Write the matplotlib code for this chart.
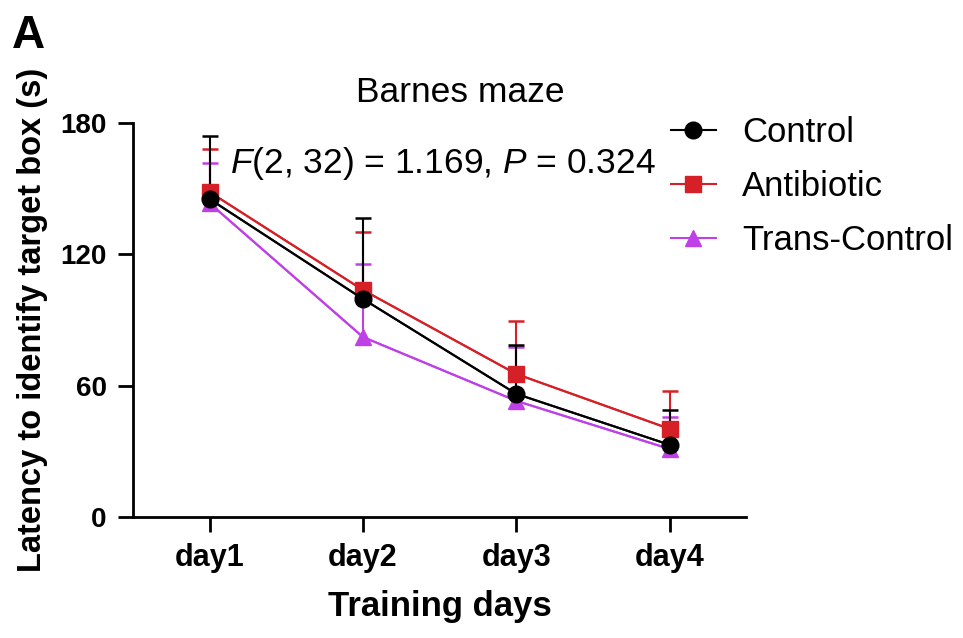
import numpy as np
import matplotlib.pyplot as plt

plt.rcParams['font.family'] = ['Liberation Sans', 'DejaVu Sans']
plt.rcParams['mathtext.fontset'] = 'custom'
plt.rcParams['mathtext.rm'] = 'Liberation Sans'
plt.rcParams['mathtext.it'] = 'Liberation Sans:italic'

days = ['day1', 'day2', 'day3', 'day4']

control = [145.3, 99.6, 56.2, 32.9]
control_err = [28.7, 37.0, 22.4, 16.0]

antibiotic = [148.5, 103.7, 65.3, 40.2]
antibiotic_err = [19.5, 26.5, 24.2, 17.4]

trans_control = [143.4, 82.2, 53.0, 31.0]
trans_control_err = [18.3, 33.4, 24.7, 14.7]

fig = plt.figure(figsize=(9.63, 6.38), dpi=100)
ax = fig.add_axes([0.138, 0.19, 0.637, 0.617])

x = np.arange(len(days))
groups = [
    ('Control', control, control_err, 'black', 'o', 12),
    ('Antibiotic', antibiotic, antibiotic_err, '#d62027', 's', 11),
    ('Trans-Control', trans_control, trans_control_err, '#c040e8', '^', 11),
]

# upper-only error bars, drawn back to front so Control sits on top
for z, (name, y, err, col, mk, ms) in zip([1, 2, 3], groups[::-1]):
    _, caps, _ = ax.errorbar(x, y, yerr=[np.zeros(len(err)), err], color=col,
                             lw=1.5, capsize=6, capthick=1.8, elinewidth=1.5,
                             zorder=z)
    caps[0].set_visible(False)

for z, (name, y, err, col, mk, ms) in zip([6, 5, 4], groups):
    ax.plot(x, y, color=col, lw=1.5, marker=mk, markersize=ms,
            label=name, zorder=z)

ax.set_xlim(-0.5, 3.5)
ax.set_ylim(0, 180)
ax.set_yticks([0, 60, 120, 180])
ax.set_xticks(x)
ax.set_xticklabels(days)

for side in ['top', 'right']:
    ax.spines[side].set_visible(False)
for side in ['left', 'bottom']:
    ax.spines[side].set_linewidth(2)

ax.tick_params(axis='both', direction='out', length=11, width=2, pad=8)
ax.tick_params(axis='y', labelsize=20)
ax.tick_params(axis='x', labelsize=22)
for lab in ax.get_xticklabels() + ax.get_yticklabels():
    lab.set_fontweight('bold')

ax.set_xlabel('Training days', fontsize=25, fontweight='bold', labelpad=12)
ax.set_ylabel('Latency to identify target box (s)', fontsize=23.5,
              fontweight='bold', labelpad=9)

fig.text(460 / 963, 1 - 93 / 638, 'Barnes maze', fontsize=25.5,
         ha='center', va='center')
ax.text(0.134, 161.5, '$F$(2, 32) = 1.169, $P$ = 0.324', fontsize=25.5,
        ha='left', va='center')

fig.text(12 / 963, 1 - 36 / 638, 'A', fontsize=33, fontweight='bold',
         ha='left', va='center')

ax.legend(loc='upper left', bbox_to_anchor=(0.826, 1.097), frameon=False,
          fontsize=25, handlelength=1.3, labelspacing=0.6,
          handletextpad=0.75)

fig.savefig('out.png', dpi=100)
